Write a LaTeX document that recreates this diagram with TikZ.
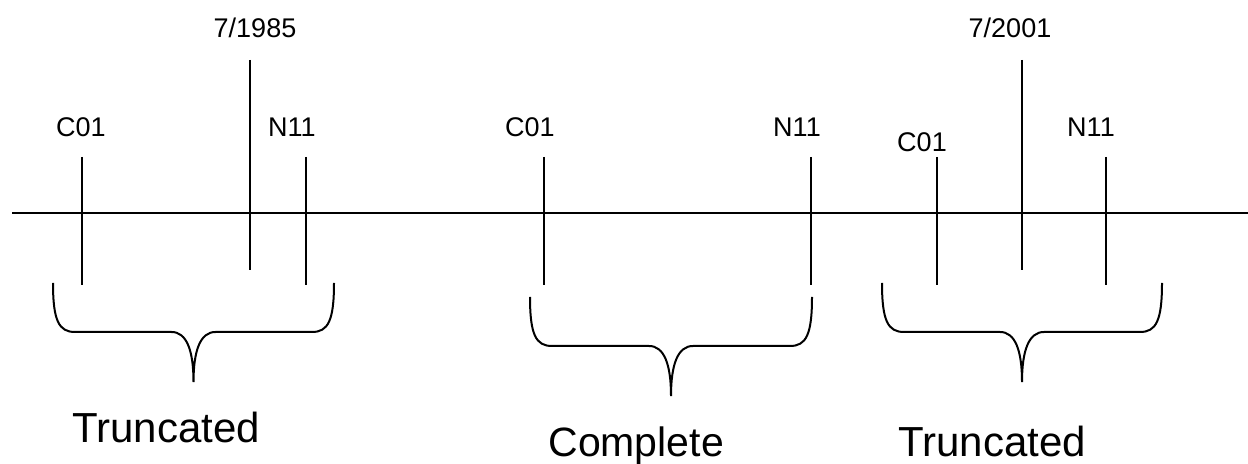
\documentclass[tikz,border=0pt]{standalone}
\usepackage{fontspec}
\setmainfont{Liberation Sans}
\tikzset{
  every picture/.style={x=0.5pt,y=-0.5pt},
  rule/.style={line width=1pt,black},
  brace/.style={line width=1pt,black},
  mark label/.style={font=\fontsize{13.5pt}{16pt}\selectfont,anchor=base,inner sep=0pt},
  span label/.style={font=\fontsize{20.5pt}{24pt}\selectfont,anchor=base west,inner sep=0pt}
}
% curly brace below a span: left x, right x, top y, name of the tip
\newcommand{\timebrace}[4]{%
  \pgfmathsetmacro{\bxm}{(#1+#2)/2}%
  \pgfmathsetmacro{\byh}{#3+49}%
  \pgfmathsetmacro{\byt}{#3+99}%
  \draw[brace] (#1,#3) .. controls +(0,38) and +(-16,0) .. (#1+22,\byh)
    -- (\bxm-22,\byh) .. controls +(15,0) and +(0,-32) .. (\bxm,\byt) coordinate (#4)
    .. controls +(0,-32) and +(-15,0) .. (\bxm+22,\byh)
    -- (#2-22,\byh) .. controls +(16,0) and +(0,38) .. (#2,#3);
}
\begin{document}
\begin{tikzpicture}
\useasboundingbox (0,0) rectangle (1248,464);

% time axis
\coordinate (axisL) at (12,213);
\coordinate (axisR) at (1248,213);
\draw[rule] (axisL) -- (axisR);

% event marks
\foreach \nm/\x/\yt/\yb in {cA/82/157/285, dA/250/60/270, nA/306/157/285,
                           cB/544/157/285, nB/811/157/285,
                           cC/937/157/285, dC/1022/60/270, nC/1106/157/285}{
  \coordinate (\nm top) at (\x,\yt);
  \coordinate (\nm bot) at (\x,\yb);
  \draw[rule] (\nm top) -- (\nm bot);
}

% mark labels
\node[mark label] (lcA) at (81,137) {C01};
\node[mark label] (ldA) at (255,38) {7/1985};
\node[mark label] (lnA) at (292,137) {N11};
\node[mark label] (lcB) at (530,137) {C01};
\node[mark label] (lnB) at (797,137) {N11};
\node[mark label] (lcC) at (922,152) {C01};
\node[mark label] (ldC) at (1010,38) {7/2001};
\node[mark label] (lnC) at (1091,137) {N11};

% spans
\timebrace{53}{334}{283}{tipA}
\timebrace{530}{812}{297}{tipB}
\timebrace{882}{1162}{283}{tipC}

\node[span label,font=\fontsize{21pt}{25pt}\selectfont] (sA) at (72,443) {Truncated};
\node[span label] (sB) at (548,457) {Complete};
\node[span label,font=\fontsize{21pt}{25pt}\selectfont] (sC) at (898,457) {Truncated};
\end{tikzpicture}
\end{document}
